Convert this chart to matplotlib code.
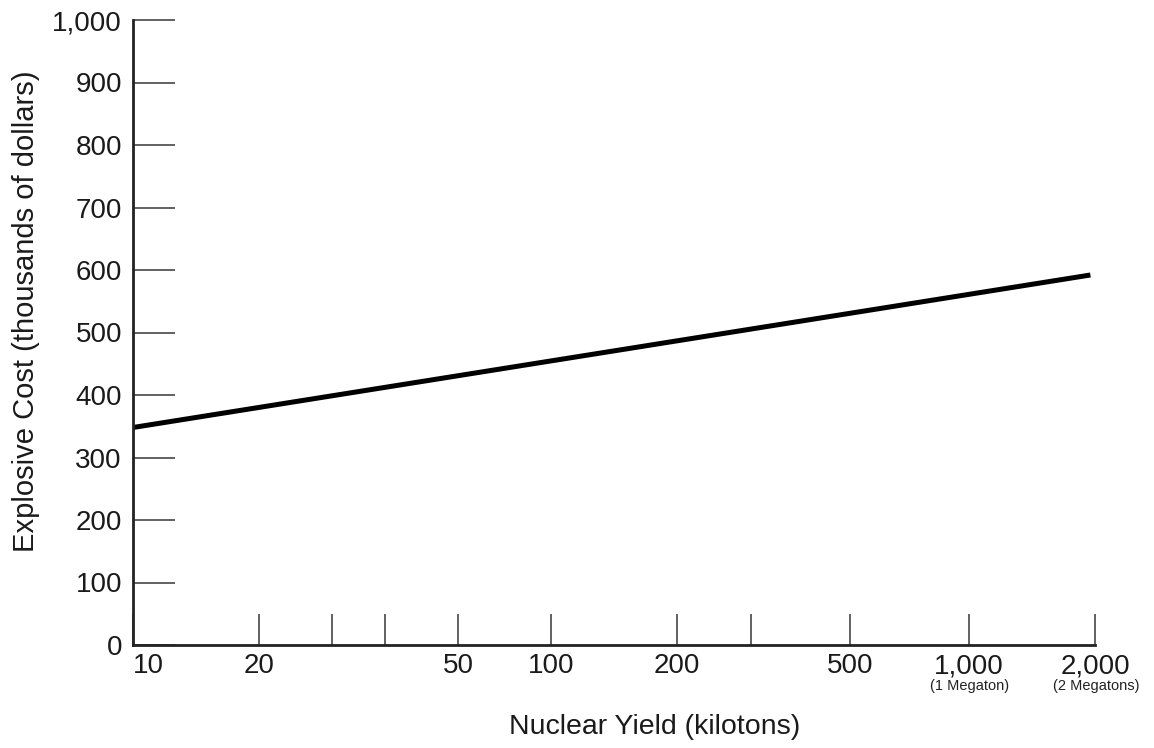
import matplotlib
matplotlib.use("Agg")
import matplotlib.pyplot as plt
import matplotlib.transforms as mtransforms

# data
yield_kt = [10, 1950]
cost_k = [348, 592]

# tick marks as placed on the original drawing
x_ticks = [10, 20, 30, 40, 60, 100, 200, 300, 520, 1000, 2000]
x_labels = ["10", "20", "", "", "50", "100", "200", "", "500", "1,000", "2,000"]
y_ticks = [0, 100, 200, 300, 400, 500, 600, 700, 800, 900, 1000]
y_labels = ["0", "100", "200", "300", "400", "500", "600", "700", "800", "900", "1,000"]
sub_notes = {1000: "(1 Megaton)", 2000: "(2 Megatons)"}


def main():
    plt.rcParams["font.family"] = ["Liberation Sans", "DejaVu Sans"]
    fig = plt.figure(figsize=(11.54, 7.48), dpi=100)
    ax = fig.add_axes([133 / 1154, 1 - 645 / 748, (1095 - 133) / 1154, (645 - 20) / 748])

    ax.plot(yield_kt, cost_k, color="black", linewidth=3.6, solid_capstyle="butt")

    ax.set_xscale("log")
    ax.set_xlim(10, 2000)
    ax.set_ylim(0, 1000)

    ax.spines["right"].set_color("none")
    ax.spines["top"].set_color("none")
    for s in ["left", "bottom"]:
        ax.spines[s].set_linewidth(2.0)
        ax.spines[s].set_color("#222222")

    ax.xaxis.set_minor_locator(matplotlib.ticker.NullLocator())
    ax.set_xticks(x_ticks)
    ax.set_xticklabels(x_labels)
    ax.set_yticks(y_ticks)
    ax.set_yticklabels(y_labels)
    ax.tick_params(axis="x", direction="in", length=22, width=1.3, color="#555555",
                   labelsize=20, pad=6, labelcolor="#1a1a1a")
    ax.tick_params(axis="y", direction="in", length=30, width=1.3, color="#555555",
                   labelsize=20, pad=8, labelcolor="#1a1a1a")
    ax.get_xticklabels()[0].set_horizontalalignment("left")

    trans = mtransforms.blended_transform_factory(ax.transData, fig.transFigure)
    for xv, note in sub_notes.items():
        ax.text(xv * 1.005, 1 - 686 / 748, note, transform=trans, ha="center", va="center",
                fontsize=10.5, color="#222222")

    fig.text(655 / 1154, 1 - 727 / 748, "Nuclear Yield (kilotons)", ha="center", va="center",
             fontsize=20.5, color="#1a1a1a")
    fig.text(26 / 1154, 1 - 311 / 748, "Explosive Cost (thousands of dollars)", ha="center",
             va="center", rotation=90, fontsize=21, color="#1a1a1a")

    fig.savefig("out.png", dpi=100)


if __name__ == '__main__':
    main()
